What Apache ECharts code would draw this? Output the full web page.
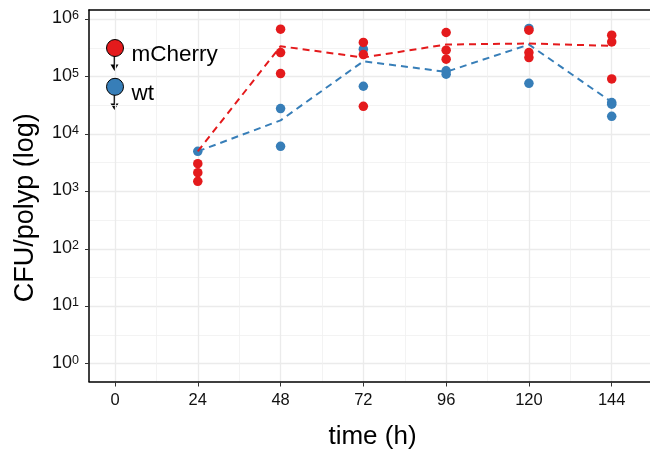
<!DOCTYPE html>
<html>
<head>
<meta charset="utf-8">
<script src="https://cdn.jsdelivr.net/npm/echarts@6/dist/echarts.min.js"></script>
<style>html,body{margin:0;padding:0;background:#fff}#c{width:650px;height:450px}</style>
</head>
<body>
<div id="c"></div>
<script>
// ---- data ----
const xTicks = [0, 24, 48, 72, 96, 120, 144];
const xMinor = [12, 36, 60, 84, 108, 132];
const yTicksExp = [0, 1, 2, 3, 4, 5, 6];
const yMinorExp = [0.5, 1.5, 2.5, 3.5, 4.5, 5.5];

const mcherryTime = [24, 24, 24, 48, 48, 48, 72, 72, 72, 96, 96, 96, 120, 120, 120, 144, 144, 144];
const mcherryCFU  = [3040, 2120, 1500, 670000, 262000, 113000, 393000, 242000, 30400, 586000, 288000, 201000, 643000, 263000, 215000, 526000, 402000, 91000];

const wtTime = [24, 48, 48, 72, 72, 96, 96, 120, 120, 144, 144, 144];
const wtCFU  = [5000, 27700, 6100, 300000, 67900, 126000, 110000, 689000, 76500, 35300, 33000, 20300];

const lineTime = [24, 48, 72, 96, 120, 144];
const mcherryMean = [5000, 338000, 215000, 362000, 377000, 343000];
const wtMean      = [4990, 17300, 185000, 121000, 362000, 36000];

const RED = '#E41A1C', BLUE = '#377EB8';
const FONT = '"Liberation Sans", Arial, Helvetica, sans-serif';

const pairs = (t, v) => t.map((x, i) => [x, Math.log10(v[i])]);

const chart = echarts.init(document.getElementById('c'), null, {renderer: 'canvas'});

const gridLine = {show: true, lineStyle: {color: '#ebebeb', width: 1.3}};
const minorLine = {show: true, lineStyle: {color: '#f0f0f0', width: 0.8}};

function arrow(cx, y0, y1) {
  return {
    type: 'group', silent: true, z: 100,
    children: [
      {type: 'line', shape: {x1: cx, y1: y0, x2: cx, y2: y1 - 5}, style: {stroke: '#000', lineWidth: 1.7}},
      {type: 'polygon', shape: {points: [[cx - 4, y1 - 6.5], [cx + 4, y1 - 6.5], [cx, y1]]}, style: {fill: '#000'}}
    ]
  };
}

chart.setOption({
  animation: false,
  backgroundColor: '#fff',
  textStyle: {fontFamily: FONT},
  grid: {left: 89, right: 0, top: 10, bottom: 68.5, containLabel: false, outerBoundsMode: 'none'},
  xAxis: [
    {
      type: 'value', min: -7.54, max: 155.1, position: 'bottom',
      name: 'time (h)', nameLocation: 'middle', nameGap: 42,
      nameTextStyle: {fontSize: 26, color: '#000', fontFamily: FONT, padding: [0, 0, 0, 6]},
      axisLine: {show: true, onZero: false, lineStyle: {color: '#000', width: 1.5}},
      axisTick: {show: true, length: 5, customValues: xTicks, lineStyle: {color: '#333', width: 1}},
      axisLabel: {show: true, customValues: xTicks, margin: 10, fontSize: 16.5, color: '#111', fontFamily: FONT},
      splitLine: gridLine
    },
    {
      type: 'value', min: -7.54, max: 155.1, position: 'top',
      axisLine: {show: true, onZero: false, lineStyle: {color: '#000', width: 1.5}},
      axisTick: {show: false, customValues: xMinor},
      axisLabel: {show: false},
      splitLine: minorLine
    }
  ],
  yAxis: [
    {
      type: 'value', min: -0.31, max: 6.16, position: 'left',
      name: 'CFU/polyp (log)', nameLocation: 'middle', nameGap: 50,
      nameTextStyle: {fontSize: 27, color: '#000', fontFamily: FONT, padding: [0, 24, 0, 0]},
      axisLine: {show: true, onZero: false, lineStyle: {color: '#000', width: 1.5}},
      axisTick: {show: true, length: 4, customValues: yTicksExp, lineStyle: {color: '#333', width: 1}},
      axisLabel: {
        show: true, customValues: yTicksExp, margin: 10,
        formatter: v => '{b|10}{s|' + Math.round(v) + '}',
        rich: {
          b: {fontSize: 18, lineHeight: 18, verticalAlign: 'bottom', color: '#111', fontFamily: FONT},
          s: {fontSize: 12.5, lineHeight: 12, verticalAlign: 'top', color: '#111', fontFamily: FONT}
        },
        lineHeight: 24,
        padding: [0, 0, 2, 0]
      },
      splitLine: gridLine
    },
    {
      type: 'value', min: -0.31, max: 6.16, position: 'right',
      axisLine: {show: false},
      axisTick: {show: false, customValues: yMinorExp},
      axisLabel: {show: false},
      splitLine: minorLine
    }
  ],
  legend: {
    orient: 'vertical', left: 106, top: 30, padding: 0,
    itemWidth: 17, itemHeight: 17, itemGap: 2.8,
    icon: 'circle',
    selectedMode: false,
    data: ['mCherry', 'wt'],
    itemStyle: {borderColor: '#000', borderWidth: 1},
    formatter: '{t|{name}}',
    textStyle: {
      fontSize: 22.5, color: '#000', fontFamily: FONT,
      rich: {t: {fontSize: 22.5, lineHeight: 24, padding: [13, 0, 0, 3], color: '#000', fontFamily: FONT}}
    }
  },
  graphic: [arrow(114.5, 56, 71), arrow(114.5, 95, 110)],
  series: [
    {
      name: 'wt', type: 'scatter', xAxisIndex: 0, yAxisIndex: 0,
      data: pairs(wtTime, wtCFU), symbolSize: 9.5,
      itemStyle: {color: BLUE, opacity: 1}
    },
    {
      name: 'mCherry', type: 'scatter', xAxisIndex: 0, yAxisIndex: 0,
      data: pairs(mcherryTime, mcherryCFU), symbolSize: 9.5,
      itemStyle: {color: RED, opacity: 1}
    },
    {
      name: 'wt mean', type: 'line', xAxisIndex: 0, yAxisIndex: 0,
      data: pairs(lineTime, wtMean), showSymbol: false, symbol: 'none',
      lineStyle: {color: BLUE, width: 2, type: [7, 5]}
    },
    {
      name: 'mCherry mean', type: 'line', xAxisIndex: 0, yAxisIndex: 0,
      data: pairs(lineTime, mcherryMean), showSymbol: false, symbol: 'none',
      lineStyle: {color: RED, width: 2, type: [7, 5]}
    }
  ]
});
</script>
</body>
</html>
